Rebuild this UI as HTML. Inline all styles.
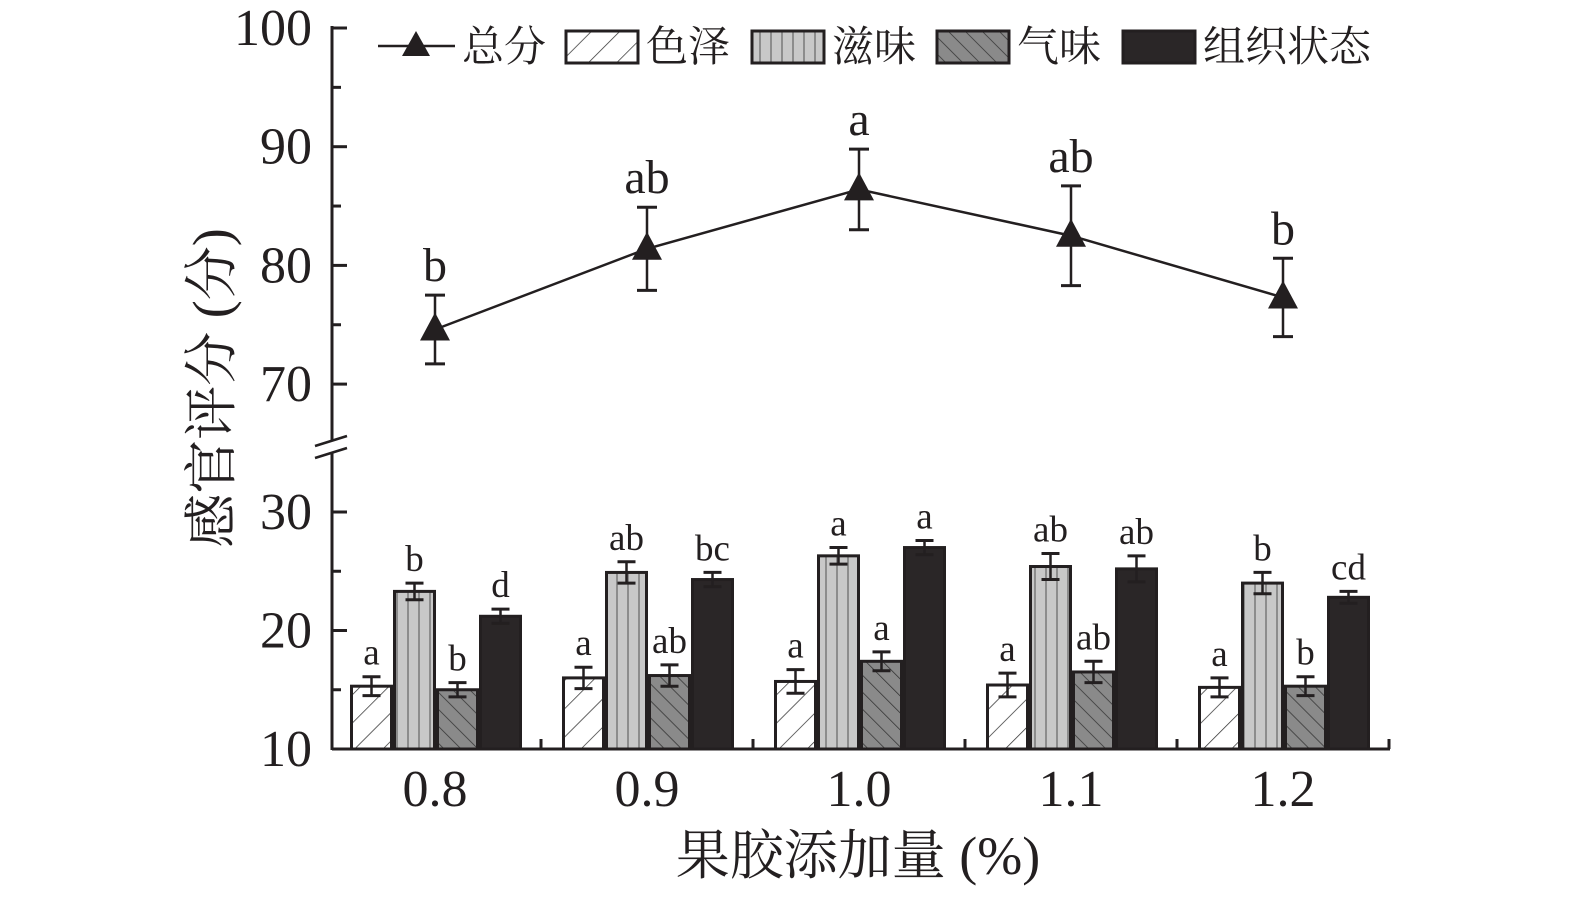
<!DOCTYPE html>
<html><head><meta charset="utf-8"><style>
body{margin:0;background:#fff}
svg text{font-family:"Liberation Serif","Noto Serif CJK SC",serif;fill:#231f20}
</style></head><body>
<svg width="1575" height="896" viewBox="0 0 1575 896" xmlns="http://www.w3.org/2000/svg">
<defs>
<pattern id="pColor" patternUnits="userSpaceOnUse" width="20" height="20" patternTransform="rotate(45)"><rect width="20" height="20" fill="#fff"/><line x1="0" y1="0" x2="0" y2="20" stroke="#333" stroke-width="1.5"/></pattern>
<pattern id="pTaste" patternUnits="userSpaceOnUse" width="11" height="20"><rect width="11" height="20" fill="#c8c8c8"/><line x1="1" y1="0" x2="1" y2="20" stroke="#777" stroke-width="1.5"/></pattern>
<pattern id="pSmell" patternUnits="userSpaceOnUse" width="12" height="12" patternTransform="rotate(-45)"><rect width="12" height="12" fill="#8a8a8a"/><line x1="0" y1="0" x2="0" y2="12" stroke="#333" stroke-width="1.5"/></pattern>
</defs>
<g id="chart"></g>
</svg>
<script>
const categories=["0.8","0.9","1.0","1.1","1.2"];
const colorVals=[15.3,16.0,15.7,15.4,15.2];
const colorErr=[0.8,0.9,1.0,1.0,0.8];
const colorLbl=["a","a","a","a","a"];
const tasteVals=[23.3,24.9,26.3,25.4,24.0];
const tasteErr=[0.7,0.9,0.7,1.1,0.9];
const tasteLbl=["b","ab","a","ab","b"];
const smellVals=[15.0,16.2,17.4,16.5,15.3];
const smellErr=[0.6,0.9,0.8,0.9,0.8];
const smellLbl=["b","ab","a","ab","b"];
const textureVals=[21.2,24.3,27.0,25.2,22.8];
const textureErr=[0.6,0.6,0.6,1.1,0.5];
const textureLbl=["d","bc","a","ab","cd"];
const totalVals=[74.6,81.4,86.4,82.5,77.3];
const totalErr=[2.9,3.5,3.4,4.2,3.3];
const totalLbl=["b","ab","a","ab","b"];
const upperTicks=[100,90,80,70];
const lowerTicks=[30,20,10];

const NS="http://www.w3.org/2000/svg";
const g=document.getElementById('chart');
function mk(tag,attrs,parent){const e=document.createElementNS(NS,tag);for(const k in attrs)e.setAttribute(k,attrs[k]);(parent||g).appendChild(e);return e;}
const AX=332, AXR=1390, YB=749;
const yU=v=>28+(100-v)*11.87;
const yL=v=>749-(v-10)*11.85;
const xC=i=>435+i*212;
const BW=43;

let e=mk('line',{x1:AX,y1:26,x2:AX,y2:440,stroke:'#231f20','stroke-width':3});

e=mk('line',{x1:AX,y1:452,x2:AX,y2:YB+1,stroke:'#231f20','stroke-width':3});

mk('line',{x1:AX-17,y1:446,x2:AX+15,y2:436,stroke:'#231f20','stroke-width':2.5});
mk('line',{x1:AX-17,y1:458,x2:AX+15,y2:448,stroke:'#231f20','stroke-width':2.5});
e=mk('line',{x1:AX,y1:YB,x2:AXR,y2:YB,stroke:'#231f20','stroke-width':3});

for(let v=100;v>=70;v-=5){const y=yU(v);mk('line',{x1:AX,y1:y,x2:AX+(v%10==0?15:9),y2:y,stroke:'#231f20','stroke-width':3});}
for(let v=30;v>=10;v-=5){const y=yL(v);mk('line',{x1:AX,y1:y,x2:AX+(v%10==0?15:9),y2:y,stroke:'#231f20','stroke-width':3});}
upperTicks.forEach(v=>{const t=mk('text',{x:AX-20,y:yU(v)+17,'text-anchor':'end','font-size':52});t.textContent=v;
});
lowerTicks.forEach(v=>{const t=mk('text',{x:AX-20,y:yL(v)+17,'text-anchor':'end','font-size':52});t.textContent=v;
});
for(let i=1;i<=categories.length;i++){const x=xC(i)-106;mk('line',{x1:x,y1:YB,x2:x,y2:YB-10,stroke:'#231f20','stroke-width':3});}
categories.forEach((c,i)=>{const t=mk('text',{x:xC(i),y:806,'text-anchor':'middle','font-size':52});t.textContent=c;
});
let t=mk('text',{x:858,y:874,'text-anchor':'middle','font-size':54});t.textContent='果胶添加量 (%)';

t=mk('text',{x:0,y:0,'text-anchor':'middle','font-size':54,transform:'translate(230,388) rotate(-90)'});t.textContent='感官评分 (分)';


const series=[[colorVals,colorErr,colorLbl,'url(#pColor)','bar-color'],[tasteVals,tasteErr,tasteLbl,'url(#pTaste)','bar-taste'],[smellVals,smellErr,smellLbl,'url(#pSmell)','bar-smell'],[textureVals,textureErr,textureLbl,'#2a2627','bar-texture']];
series.forEach((s,k)=>{
 s[0].forEach((v,i)=>{
  const x=xC(i)-85+k*BW, y=yL(v);
  const r=mk('rect',{x:x+1.5,y:y,width:BW-3,height:YB-y,fill:s[3],stroke:'#231f20','stroke-width':3});
  
  const cx=x+BW/2, y1=yL(v+s[1][i]), y2=yL(v-s[1][i]);
  mk('line',{x1:cx,y1:y1,x2:cx,y2:y2,stroke:'#231f20','stroke-width':2.5});
  mk('line',{x1:cx-9,y1:y1,x2:cx+9,y2:y1,stroke:'#231f20','stroke-width':3});
  mk('line',{x1:cx-9,y1:y2,x2:cx+9,y2:y2,stroke:'#231f20','stroke-width':3});
  const l=mk('text',{x:cx,y:y1-12,'text-anchor':'middle','font-size':37});l.textContent=s[2][i];
  
 });
});

const pts=totalVals.map((v,i)=>xC(i)+','+yU(v)).join(' ');
e=mk('polyline',{points:pts,fill:'none',stroke:'#231f20','stroke-width':2.5});

totalVals.forEach((v,i)=>{
 const cx=xC(i),y=yU(v),y1=yU(v+totalErr[i]),y2=yU(v-totalErr[i]);
 mk('line',{x1:cx,y1:y1,x2:cx,y2:y2,stroke:'#231f20','stroke-width':2.5});
 mk('line',{x1:cx-10,y1:y1,x2:cx+10,y2:y1,stroke:'#231f20','stroke-width':3});
 mk('line',{x1:cx-10,y1:y2,x2:cx+10,y2:y2,stroke:'#231f20','stroke-width':3});
 const p=mk('polygon',{points:`${cx},${y-17} ${cx-15},${y+11} ${cx+15},${y+11}`,fill:'#231f20'});
 
 const l=mk('text',{x:cx,y:y1-14,'text-anchor':'middle','font-size':48});l.textContent=totalLbl[i];
 
});

const lg=mk('g',{});

mk('line',{x1:378,y1:46,x2:455,y2:46,stroke:'#231f20','stroke-width':2.5},lg);
mk('polygon',{points:'416,31 402,56 430,56',fill:'#231f20'},lg);
let lt=mk('text',{x:462,y:61,'font-size':42},lg);lt.textContent='总分';
const leg=[[566,'url(#pColor)','色泽'],[752,'url(#pTaste)','滋味'],[937,'url(#pSmell)','气味'],[1123,'#2a2627','组织状态']];
leg.forEach(l=>{
 const r=mk('rect',{x:l[0],y:31,width:72,height:32,fill:l[1],stroke:'#231f20','stroke-width':3},lg);
 
 const tx=mk('text',{x:l[0]+80,y:61,'font-size':42},lg);tx.textContent=l[2];
 
});
</script>
</body></html>
